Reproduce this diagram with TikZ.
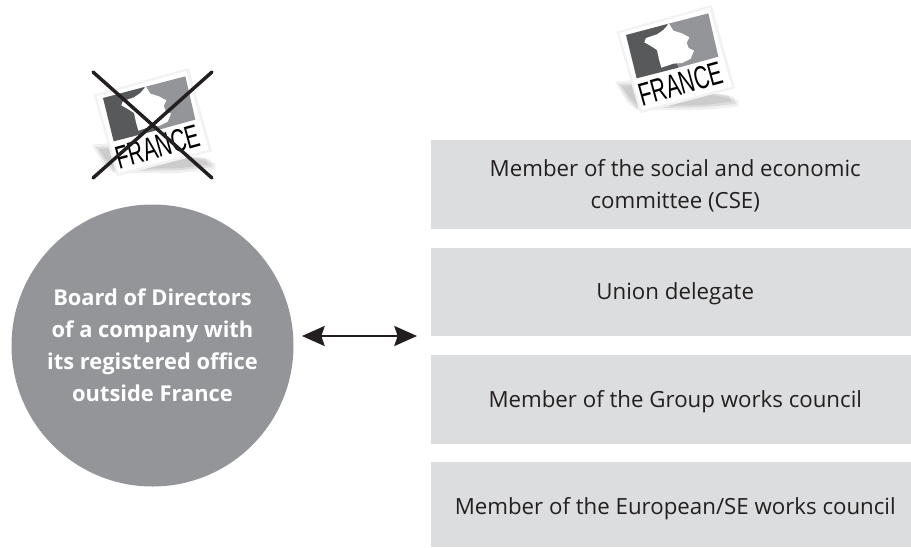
\documentclass[tikz,border=0pt]{standalone}
\usepackage{fontspec}
\setmainfont{Open Sans}
\newfontfamily\flagfont{Liberation Sans}
\usetikzlibrary{arrows.meta}
\definecolor{boardgray}{HTML}{939598}
\definecolor{boxgray}{HTML}{DCDDDE}
\definecolor{ink}{HTML}{231F20}
\definecolor{paneldark}{HTML}{58595B}
\definecolor{panellight}{HTML}{939598}
\newcommand{\lowtext}[2][1.5pt]{\hspace*{6pt}\raisebox{-#1}[0.75em][0.25em]{#2}}
\tikzset{
  boxnode/.style={fill=boxgray,minimum width=480*0.75pt,anchor=north west,inner sep=0pt,
    align=center,font=\fontsize{16.7}{24}\selectfont,text=ink},
  boardnode/.style={circle,fill=boardgray,minimum size=282*0.75pt,inner sep=0pt,
    align=center,text=white,font=\bfseries\fontsize{16.4}{24}\selectfont},
  twoway/.style={{Stealth[length=17pt,width=15pt,inset=2.5pt]}-{Stealth[length=17pt,width=15pt,inset=2.5pt]},line width=1.8pt,draw=ink},
  crossline/.style={draw=ink,line width=2.6pt,line cap=round},
  flagicon/.pic={
    \begin{scope}[x=0.25pt,y=-0.25pt]
      \fill[black,opacity=.06] (75,245)--(135,240)--(445,300)--(445,320)--(330,330)--(140,330)--(110,305)--cycle;
      \fill[black,opacity=.08] (85,252)--(135,250)--(430,290)--(438,312)--(335,322)--(140,325)--(115,300)--cycle;
      \fill[black,opacity=.08] (95,258)--(135,255)--(415,285)--(425,305)--(340,315)--(145,320)--(120,295)--cycle;
      \fill[black!5] (80,95)--(365,15)--(435,265)--(150,340)--cycle;
      \fill[white] (88,100)--(358,24)--(425,260)--(155,330)--cycle;
      \fill[paneldark] (108,105)--(232,72)--(265,203)--(140,235)--cycle;
      \fill[panellight] (232,72)--(355,40)--(385,170)--(265,203)--cycle;
      \fill[white] (237,71)--(250,92)--(276,100)--(298,112)--(290,128)--(296,144)--(312,152)--(302,176)--(276,189)--(250,191)--(214,203)--(206,174)--(201,150)--(181,137)--(163,127)--(168,114)--(201,103)--(220,90)--cycle;
      \node[rotate=15.5,inner sep=0pt,text=black] at (272,252)
        {\flagfont\fontsize{17}{17}\selectfont\scalebox{0.92}[1.42]{FRANCE}};
    \end{scope}
  }
}
\begin{document}
\begin{tikzpicture}[x=0.75pt,y=-0.75pt]
  \useasboundingbox (0,0) rectangle (911,547);
  \node[boardnode] (board) at (152.5,345.5) {Board of Directors\\of a company with\\its registered office\\outside France};
  \node[boxnode,minimum height=89*0.75pt] (cse) at (431,140) {\lowtext{Member of the social and economic}\\\lowtext{committee (CSE)}};
  \node[boxnode,minimum height=88*0.75pt] (union) at (431,248) {\lowtext{Union delegate}};
  \node[boxnode,minimum height=89*0.75pt] (group) at (431,355) {\lowtext{Member of the Group works council}};
  \node[boxnode,minimum height=85*0.75pt] (euro) at (431,462) {\lowtext[3pt]{Member of the European/SE works council}};
  \coordinate (arrowleft) at (302,336);
  \coordinate (arrowright) at (417,336);
  \draw[twoway] (arrowleft) -- (arrowright);
  \pic at (590,0) {flagicon};
  \pic at (67,63) {flagicon};
  \coordinate (crossnw) at (93,72);
  \coordinate (crossse) at (212,178);
  \coordinate (crossne) at (212,72);
  \coordinate (crosssw) at (93,178);
  \draw[crossline] (crossnw) -- (crossse);
  \draw[crossline] (crossne) -- (crosssw);
\end{tikzpicture}
\end{document}
